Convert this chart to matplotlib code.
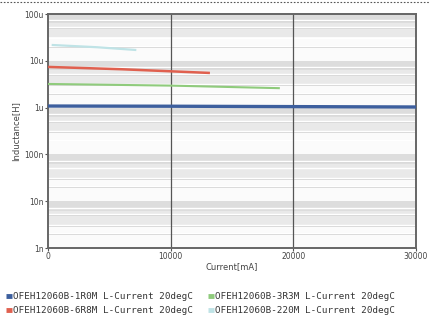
import matplotlib
matplotlib.use("Agg")
import matplotlib.pyplot as plt
import numpy as np
from matplotlib.lines import Line2D

# ---- data ----
names = ["OFEH12060B-1R0M L-Current 20degC",
         "OFEH12060B-6R8M L-Current 20degC",
         "OFEH12060B-3R3M L-Current 20degC",
         "OFEH12060B-220M L-Current 20degC"]
colors = ["#3d5f9e", "#e0604f", "#8fcb7c", "#bfe3e6"]

cur_1r0 = [0, 10000, 20000, 30000]
ind_1r0 = [1.08e-6, 1.07e-6, 1.05e-6, 1.03e-6]
cur_6r8 = [0, 6000, 13200]
ind_6r8 = [7.4e-6, 6.6e-6, 5.5e-6]
cur_3r3 = [0, 10000, 18900]
ind_3r3 = [3.2e-6, 2.95e-6, 2.6e-6]
cur_220 = [300, 4000, 7200]
ind_220 = [21.8e-6, 19.5e-6, 17.0e-6]

series = [(cur_1r0, ind_1r0), (cur_6r8, ind_6r8), (cur_3r3, ind_3r3), (cur_220, ind_220)]
lws = [2.4, 1.8, 1.5, 1.6]

xticks = [0, 10000, 20000, 30000]
xtick_labels = ["0", "10000", "20000", "30000"]
yticks = [1e-9, 1e-8, 1e-7, 1e-6, 1e-5, 1e-4]
ytick_labels = ["1n", "10n", "100n", "1u", "10u", "100u"]

fig = plt.figure(figsize=(4.3, 3.2), dpi=100)
ax = fig.add_axes([48/430, 1-248/320, (416-48)/430, (248-14)/320])
ax.set_yscale("log")
ax.set_xlim(0, 30000)
ax.set_ylim(1e-9, 1e-4)
ax.set_facecolor("#fbfbfb")

# background decade bands
for k in range(-9, -4):
    lo = 10**k
    ax.axhspan(lo*10**0.5, lo*10, color="#e9e9e9", zorder=0, lw=0)
    ax.axhspan(lo*10**0.8, lo*10, color="#dddddd", zorder=0, lw=0)
    for m in [2, 3, 5, 7]:
        ax.axhline(lo*m, color="#d2d2d2", lw=0.7, zorder=0.5)
        ax.axhline(lo*m*1.04, color="#ffffff", lw=1.0, zorder=0.6)

for xv in [10000, 20000]:
    ax.axvline(xv, color="#555555", lw=0.9, zorder=1)

for (c, l), col, lw in zip(series, colors, lws):
    ax.plot(c, l, color=col, lw=lw, zorder=3, solid_capstyle="butt")

ax.set_xticks(xticks)
ax.set_xticklabels(xtick_labels, fontsize=5.5, color="#444444")
ax.set_yticks(yticks)
ax.set_yticklabels(ytick_labels, fontsize=5.5, color="#444444")
ax.yaxis.set_minor_locator(matplotlib.ticker.NullLocator())
ax.tick_params(axis="both", length=2, width=0.8, color="#555555", pad=1)
for s in ax.spines.values():
    s.set_color("#666666")
    s.set_linewidth(1.4)

ax.set_xlabel("Current[mA]", fontsize=6, color="#444444", labelpad=1)
ax.set_ylabel("Inductance[H]", fontsize=6, color="#444444", labelpad=3)

handles = [Line2D([0], [0], color=c, lw=3.5, solid_capstyle="butt") for c in colors]
fig.legend(handles, names, ncol=2, loc="lower left", bbox_to_anchor=(-0.005, -0.012),
           frameon=False, prop={"family": "DejaVu Sans Mono", "size": 6.7},
           handlelength=0.6, handletextpad=0.15,
           columnspacing=1.6, labelspacing=0.55, labelcolor="#333333")

fig.add_artist(Line2D([0, 1], [1-2/320, 1-2/320], transform=fig.transFigure,
                      color="#555555", lw=0.8, ls=(0, (1.5, 1.5))))

fig.savefig("out.png", dpi=100)
